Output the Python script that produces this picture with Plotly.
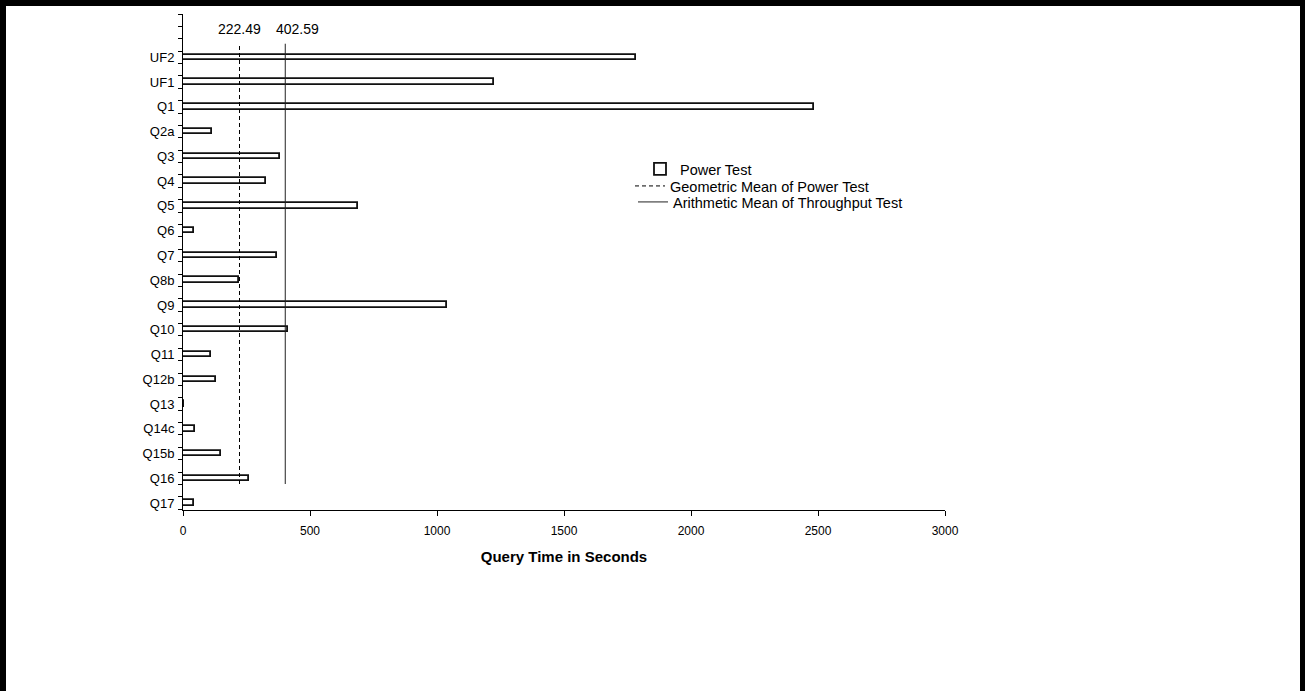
import plotly.graph_objects as go

# ---- data ----
queries = ["UF2", "UF1", "Q1", "Q2a", "Q3", "Q4", "Q5", "Q6", "Q7", "Q8b",
           "Q9", "Q10", "Q11", "Q12b", "Q13", "Q14c", "Q15b", "Q16", "Q17"]
power_test = [1783, 1224, 2484, 113, 380, 327, 687, 42, 372, 222,
              1040, 413, 109, 128, 5, 48, 149, 259, 44]
geo_mean_power = 222.49
arith_mean_throughput = 402.59
x_ticks = [0, 500, 1000, 1500, 2000, 2500, 3000]

n = len(queries)
ypos = [n - 1 - i for i in range(n)]  # UF2 at top, Q17 at bottom

W, H = 1305, 691
L, R, T, B = 183, 360, 14, 181
PW, PH = W - L - R, H - T - B

def px_x(px):
    return (px - L) / PW

def px_y(py):
    return (H - B - py) / PH

FONT = "Arial, Liberation Sans, sans-serif"

fig = go.Figure()
fig.add_trace(go.Bar(
    x=power_test, y=ypos, orientation="h", width=0.22,
    marker=dict(color="white", line=dict(color="#111111", width=1.8)),
    name="Power Test", showlegend=True, legend="legend",
))
line_lo, line_hi = 0.77, 18.55
fig.add_trace(go.Scatter(
    x=[geo_mean_power, geo_mean_power], y=[line_lo, line_hi], mode="lines",
    line=dict(color="black", width=1, dash="4px,3px"),
    name="Geometric Mean of Power Test", legend="legend2",
))
fig.add_trace(go.Scatter(
    x=[arith_mean_throughput, arith_mean_throughput], y=[line_lo, line_hi], mode="lines",
    line=dict(color="#222222", width=1),
    name="Arithmetic Mean of Throughput Test", legend="legend3",
))

fig.add_annotation(x=geo_mean_power, y=19.15, text=f"{geo_mean_power:.2f}",
                   showarrow=False, xanchor="center", yanchor="middle",
                   font=dict(family=FONT, size=14, color="black"))
fig.add_annotation(x=arith_mean_throughput, y=19.15, text=f"{arith_mean_throughput:.2f}",
                   showarrow=False, xanchor="center", yanchor="middle", xshift=12,
                   font=dict(family=FONT, size=14, color="black"))

minor_vals = [-0.25 + 0.5 * k for k in range(41)]

fig.update_yaxes(
    range=[-0.28, 19.75], tickmode="array", tickvals=ypos, ticktext=queries,
    ticks="", showgrid=False, zeroline=False, showline=True, linecolor="black",
    linewidth=1, tickfont=dict(family=FONT, size=13, color="black"),
    ticklabelstandoff=5,
    minor=dict(tickmode="array", tickvals=minor_vals, ticks="outside",
               ticklen=4, tickcolor="black", tickwidth=1, showgrid=False),
)
fig.update_xaxes(
    range=[0, 3000], tickmode="array", tickvals=x_ticks,
    ticktext=[str(v) for v in x_ticks],
    ticks="outside", ticklen=5, tickcolor="black", showgrid=False, zeroline=False,
    showline=True, linecolor="black", linewidth=1,
    tickfont=dict(family=FONT, size=12, color="black"),
    ticklabelstandoff=5,
    title=dict(text="<b>Query Time in Seconds</b>", standoff=14,
               font=dict(family=FONT, size=15, color="black")),
)

# black frame around the picture
frame = dict(type="rect", xref="paper", yref="paper", fillcolor="black",
             line=dict(width=0), layer="above")
shapes = [
    dict(frame, x0=px_x(0), x1=px_x(6), y0=px_y(H), y1=px_y(0)),
    dict(frame, x0=px_x(0), x1=px_x(W), y0=px_y(6), y1=px_y(0)),
    dict(frame, x0=px_x(1300), x1=px_x(W), y0=px_y(H), y1=px_y(0)),
]

leg_common = dict(xanchor="left", yanchor="middle", bgcolor="rgba(0,0,0,0)",
                  font=dict(family=FONT, size=14.5, color="black"), itemwidth=30)

fig.update_layout(
    width=W, height=H, autosize=False,
    margin=dict(l=L, r=R, t=T, b=B, autoexpand=False),
    paper_bgcolor="white", plot_bgcolor="white",
    font=dict(family=FONT, color="black"),
    bargap=0,
    shapes=shapes,
    legend=dict(leg_common, x=px_x(640), y=px_y(169)),
    legend2=dict(leg_common, x=px_x(630), y=px_y(186)),
    legend3=dict(leg_common, x=px_x(633), y=px_y(202)),
)

fig.write_html("out.html", config={"displayModeBar": False},
               post_script="document.body.style.margin='0';")
